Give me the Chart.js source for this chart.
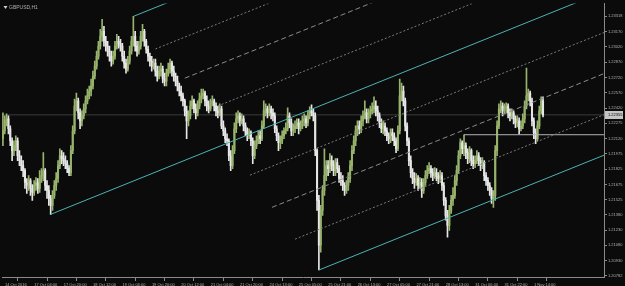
<!DOCTYPE html>
<html>
<head>
<meta charset="utf-8">
<script src="https://cdn.jsdelivr.net/npm/chart.js@4.4.0/dist/chart.umd.min.js"></script>
<style>
  html, body { margin: 0; padding: 0; background: #0b0b0b; }
  canvas { display: block; }
</style>
</head>
<body>
<canvas id="grafico" width="625" height="286"></canvas>
<script>
// GBPUSD H1 - velas, canal y niveles

const symbolTitle = 'GBPUSD,H1';

// Etiquetas del eje de tiempo (una cada 16 velas)
const xTickBars = [0, 16, 32, 48, 64, 80, 96, 112, 128, 144, 160, 176, 192, 208, 224, 240, 256, 272, 288];
const xTickLabels = ['14 Oct 2016', '17 Oct 04:00', '17 Oct 20:00', '18 Oct 12:00', '19 Oct 04:00', '19 Oct 20:00',
  '20 Oct 12:00', '21 Oct 04:00', '21 Oct 20:00', '24 Oct 13:00', '25 Oct 05:00', '25 Oct 21:00', '26 Oct 13:00',
  '27 Oct 05:00', '27 Oct 21:00', '28 Oct 13:00', '31 Oct 06:00', '31 Oct 22:00', '1 Nov 14:00'];

// Etiquetas del eje de precios
const yTickValues = [1.23318, 1.23170, 1.23020, 1.22870, 1.22720, 1.22570, 1.22420, 1.22275, 1.22120,
  1.21975, 1.21825, 1.21675, 1.21525, 1.21380, 1.21230, 1.21080, 1.20930, 1.20782];
const priceMin = 1.20771;
const priceMax = 1.23444;
const bidPrice = 1.22355;

// Velas (OHLC)
const candleOpen = [
  1.22122,1.22199,1.22297,1.22316,1.22219,1.22102,1.22005,1.22054,1.22102,1.21956,
  1.21908,1.21859,1.21811,1.21694,1.21665,1.21713,1.21636,1.21597,1.21665,1.21694,
  1.21636,1.21733,1.21762,1.21811,1.21665,1.21616,1.21538,1.21470,1.21568,1.21665,
  1.21733,1.21859,1.21956,1.21927,1.21908,1.21879,1.21830,1.21791,1.22005,1.22199,
  1.22442,1.22491,1.22374,1.22297,1.22345,1.22413,1.22491,1.22540,1.22588,1.22637,
  1.22734,1.22831,1.22928,1.23026,1.23123,1.23171,1.23074,1.23026,1.22977,1.22928,
  1.22880,1.22928,1.23026,1.23074,1.23055,1.23026,1.22928,1.22860,1.22802,1.22880,
  1.22977,1.23074,1.23123,1.23026,1.22977,1.23026,1.23123,1.23171,1.23074,1.22996,
  1.22928,1.22880,1.22831,1.22860,1.22783,1.22734,1.22783,1.22802,1.22705,1.22685,
  1.22763,1.22802,1.22860,1.22783,1.22734,1.22685,1.22637,1.22588,1.22540,1.22491,
  1.22394,1.22297,1.22345,1.22442,1.22491,1.22413,1.22374,1.22442,1.22510,1.22540,
  1.22569,1.22491,1.22442,1.22413,1.22462,1.22491,1.22442,1.22394,1.22374,1.22413,
  1.22248,1.22199,1.22122,1.22102,1.21956,1.21859,1.22005,1.22219,1.22316,1.22345,
  1.22297,1.22316,1.22248,1.22199,1.22151,1.22180,1.22102,1.21956,1.22054,1.22102,
  1.22151,1.22122,1.22248,1.22394,1.22413,1.22374,1.22413,1.22374,1.22345,1.22219,
  1.22151,1.22083,1.22102,1.22151,1.22199,1.22219,1.22345,1.22277,1.22199,1.22219,
  1.22248,1.22277,1.22219,1.22248,1.22297,1.22316,1.22277,1.22345,1.22394,1.22374,
  1.22345,1.22005,1.21519,1.21082,1.21422,1.21616,1.21762,1.21859,1.21830,1.21908,
  1.21859,1.21811,1.21888,1.21830,1.21733,1.21713,1.21665,1.21616,1.21665,1.21733,
  1.21859,1.22005,1.22102,1.22199,1.22248,1.22219,1.22297,1.22345,1.22374,1.22316,
  1.22365,1.22394,1.22413,1.22442,1.22394,1.22345,1.22277,1.22219,1.22248,1.22199,
  1.22151,1.22122,1.22180,1.22151,1.22102,1.22024,1.22199,1.22540,1.22588,1.22491,
  1.22248,1.22102,1.21908,1.21791,1.21733,1.21694,1.21733,1.21665,1.21694,1.21616,
  1.21694,1.21762,1.21811,1.21830,1.21791,1.21762,1.21791,1.21752,1.21733,1.21762,
  1.21665,1.21519,1.21373,1.21276,1.21422,1.21519,1.21568,1.21713,1.21811,1.21956,
  1.22083,1.22024,1.22054,1.21986,1.21927,1.22005,1.21908,1.21879,1.21908,1.21956,
  1.21908,1.21859,1.21888,1.21762,1.21713,1.21665,1.21616,1.21538,1.21568,1.22005,
  1.22248,1.22413,1.22442,1.22394,1.22413,1.22442,1.22374,1.22345,1.22374,1.22316,
  1.22277,1.22297,1.22219,1.22248,1.22316,1.22442,1.22540,1.22569,1.22491,1.22297,
  1.22180,1.22122,1.22248,1.22394,1.22491
];
const candleHigh = [
  1.22374,1.22345,1.22365,1.22345,1.22248,1.22131,1.22102,1.22151,1.22131,1.22005,
  1.21956,1.21908,1.21830,1.21733,1.21762,1.21733,1.21675,1.21713,1.21743,1.21733,
  1.21811,1.21830,1.21986,1.21830,1.21713,1.21665,1.21568,1.21616,1.21713,1.21791,
  1.21908,1.22024,1.22005,1.21986,1.21956,1.21908,1.21859,1.22054,1.22248,1.22510,
  1.22569,1.22520,1.22413,1.22394,1.22462,1.22540,1.22608,1.22637,1.22705,1.22783,
  1.22880,1.22977,1.23074,1.23191,1.23288,1.23220,1.23123,1.23074,1.23026,1.22977,
  1.22977,1.23074,1.23142,1.23123,1.23094,1.23055,1.22977,1.22899,1.22928,1.23026,
  1.23123,1.23317,1.23171,1.23074,1.23074,1.23171,1.23239,1.23191,1.23094,1.23026,
  1.22958,1.22928,1.22899,1.22899,1.22831,1.22831,1.22860,1.22831,1.22763,1.22802,
  1.22860,1.22899,1.22880,1.22831,1.22763,1.22734,1.22666,1.22637,1.22569,1.22510,
  1.22442,1.22394,1.22491,1.22540,1.22510,1.22462,1.22491,1.22569,1.22608,1.22608,
  1.22588,1.22540,1.22491,1.22510,1.22540,1.22510,1.22472,1.22442,1.22462,1.22442,
  1.22297,1.22229,1.22170,1.22122,1.22005,1.22054,1.22277,1.22374,1.22394,1.22374,
  1.22365,1.22345,1.22277,1.22229,1.22219,1.22199,1.22131,1.22102,1.22151,1.22199,
  1.22199,1.22297,1.22491,1.22462,1.22442,1.22462,1.22442,1.22413,1.22374,1.22248,
  1.22180,1.22151,1.22199,1.22229,1.22277,1.22423,1.22374,1.22316,1.22267,1.22297,
  1.22316,1.22316,1.22297,1.22345,1.22365,1.22345,1.22394,1.22433,1.22452,1.22413,
  1.22374,1.22024,1.21568,1.21470,1.21665,1.22024,1.21908,1.21908,1.21976,1.21956,
  1.21908,1.21927,1.21927,1.21859,1.21791,1.21762,1.21694,1.21713,1.21791,1.21908,
  1.22054,1.22151,1.22248,1.22297,1.22297,1.22345,1.22394,1.22491,1.22413,1.22413,
  1.22442,1.22472,1.22530,1.22491,1.22442,1.22374,1.22316,1.22297,1.22277,1.22229,
  1.22180,1.22219,1.22219,1.22180,1.22131,1.22248,1.22705,1.22666,1.22637,1.22520,
  1.22277,1.22131,1.21956,1.21830,1.21791,1.21781,1.21762,1.21743,1.21733,1.21733,
  1.21811,1.21859,1.21888,1.21859,1.21830,1.21840,1.21830,1.21791,1.21811,1.21791,
  1.21694,1.21548,1.21422,1.21470,1.21568,1.21645,1.21762,1.21859,1.22005,1.22122,
  1.22102,1.22161,1.22083,1.22024,1.22044,1.22024,1.21956,1.21956,1.22005,1.21986,
  1.21937,1.21937,1.21908,1.21791,1.21743,1.21694,1.21645,1.21616,1.22054,1.22297,
  1.22462,1.22491,1.22472,1.22462,1.22472,1.22462,1.22413,1.22413,1.22394,1.22345,
  1.22345,1.22326,1.22297,1.22365,1.22491,1.22812,1.22608,1.22588,1.22520,1.22326,
  1.22219,1.22297,1.22442,1.22530,1.22530
];
const candleLow = [
  1.22054,1.22170,1.22248,1.22170,1.22054,1.21908,1.21956,1.22005,1.21908,1.21859,
  1.21811,1.21752,1.21636,1.21587,1.21616,1.21568,1.21519,1.21568,1.21616,1.21587,
  1.21597,1.21694,1.21713,1.21616,1.21538,1.21470,1.21383,1.21422,1.21538,1.21616,
  1.21694,1.21830,1.21879,1.21859,1.21830,1.21791,1.21762,1.21762,1.21976,1.22170,
  1.22394,1.22316,1.22219,1.22248,1.22316,1.22374,1.22462,1.22510,1.22540,1.22608,
  1.22705,1.22802,1.22899,1.22996,1.23074,1.23026,1.22977,1.22928,1.22880,1.22831,
  1.22851,1.22899,1.22996,1.23006,1.22977,1.22880,1.22812,1.22763,1.22783,1.22851,
  1.22948,1.23026,1.22977,1.22928,1.22948,1.22996,1.23074,1.23026,1.22958,1.22880,
  1.22831,1.22783,1.22802,1.22734,1.22685,1.22705,1.22734,1.22666,1.22637,1.22637,
  1.22734,1.22763,1.22734,1.22685,1.22637,1.22588,1.22540,1.22491,1.22442,1.22345,
  1.22122,1.22248,1.22316,1.22413,1.22374,1.22316,1.22345,1.22413,1.22472,1.22510,
  1.22442,1.22394,1.22374,1.22394,1.22442,1.22394,1.22345,1.22326,1.22345,1.22219,
  1.22151,1.22083,1.22054,1.21908,1.21811,1.21830,1.21976,1.22180,1.22277,1.22248,
  1.22267,1.22199,1.22151,1.22102,1.22122,1.22054,1.21879,1.21927,1.22024,1.22073,
  1.22073,1.22102,1.22219,1.22345,1.22326,1.22345,1.22316,1.22297,1.22180,1.22102,
  1.22005,1.22024,1.22073,1.22122,1.22170,1.22199,1.22229,1.22151,1.22151,1.22180,
  1.22219,1.22170,1.22199,1.22219,1.22248,1.22229,1.22248,1.22316,1.22345,1.22297,
  1.21956,1.21422,1.20839,1.21014,1.21373,1.21568,1.21713,1.21762,1.21791,1.21811,
  1.21762,1.21762,1.21791,1.21694,1.21665,1.21616,1.21568,1.21587,1.21616,1.21694,
  1.21811,1.21976,1.22054,1.22151,1.22170,1.22180,1.22248,1.22316,1.22277,1.22277,
  1.22326,1.22365,1.22374,1.22345,1.22297,1.22229,1.22180,1.22170,1.22151,1.22102,
  1.22073,1.22083,1.22102,1.22054,1.21986,1.22005,1.22170,1.22491,1.22442,1.22199,
  1.22054,1.21859,1.21743,1.21684,1.21636,1.21665,1.21616,1.21636,1.21548,1.21587,
  1.21665,1.21733,1.21781,1.21743,1.21713,1.21733,1.21713,1.21684,1.21694,1.21616,
  1.21470,1.21325,1.21159,1.21227,1.21393,1.21470,1.21538,1.21665,1.21781,1.21927,
  1.21976,1.21956,1.21927,1.21879,1.21888,1.21859,1.21830,1.21840,1.21879,1.21859,
  1.21811,1.21830,1.21713,1.21665,1.21616,1.21568,1.21490,1.21451,1.21519,1.21956,
  1.22219,1.22374,1.22345,1.22365,1.22374,1.22326,1.22297,1.22316,1.22267,1.22229,
  1.22238,1.22170,1.22199,1.22219,1.22277,1.22413,1.22491,1.22442,1.22248,1.22122,
  1.22073,1.22102,1.22219,1.22365,1.22335
];
const candleClose = [
  1.22199,1.22297,1.22316,1.22219,1.22102,1.22005,1.22054,1.22102,1.21956,1.21908,
  1.21859,1.21811,1.21694,1.21665,1.21713,1.21636,1.21597,1.21665,1.21694,1.21636,
  1.21733,1.21762,1.21811,1.21665,1.21616,1.21538,1.21470,1.21568,1.21665,1.21733,
  1.21859,1.21956,1.21927,1.21908,1.21879,1.21830,1.21791,1.22005,1.22199,1.22442,
  1.22491,1.22374,1.22297,1.22345,1.22413,1.22491,1.22540,1.22588,1.22637,1.22734,
  1.22831,1.22928,1.23026,1.23123,1.23171,1.23074,1.23026,1.22977,1.22928,1.22880,
  1.22928,1.23026,1.23074,1.23055,1.23026,1.22928,1.22860,1.22802,1.22880,1.22977,
  1.23074,1.23123,1.23026,1.22977,1.23026,1.23123,1.23171,1.23074,1.22996,1.22928,
  1.22880,1.22831,1.22860,1.22783,1.22734,1.22783,1.22802,1.22705,1.22685,1.22763,
  1.22802,1.22860,1.22783,1.22734,1.22685,1.22637,1.22588,1.22540,1.22491,1.22394,
  1.22297,1.22345,1.22442,1.22491,1.22413,1.22374,1.22442,1.22510,1.22540,1.22569,
  1.22491,1.22442,1.22413,1.22462,1.22491,1.22442,1.22394,1.22374,1.22413,1.22248,
  1.22199,1.22122,1.22102,1.21956,1.21859,1.22005,1.22219,1.22316,1.22345,1.22297,
  1.22316,1.22248,1.22199,1.22151,1.22180,1.22102,1.21956,1.22054,1.22102,1.22151,
  1.22122,1.22248,1.22394,1.22413,1.22374,1.22413,1.22374,1.22345,1.22219,1.22151,
  1.22083,1.22102,1.22151,1.22199,1.22219,1.22345,1.22277,1.22199,1.22219,1.22248,
  1.22277,1.22219,1.22248,1.22297,1.22316,1.22277,1.22345,1.22394,1.22374,1.22345,
  1.22005,1.21519,1.21082,1.21422,1.21616,1.21762,1.21859,1.21830,1.21908,1.21859,
  1.21811,1.21888,1.21830,1.21733,1.21713,1.21665,1.21616,1.21665,1.21733,1.21859,
  1.22005,1.22102,1.22199,1.22248,1.22219,1.22297,1.22345,1.22374,1.22316,1.22365,
  1.22394,1.22413,1.22442,1.22394,1.22345,1.22277,1.22219,1.22248,1.22199,1.22151,
  1.22122,1.22180,1.22151,1.22102,1.22024,1.22199,1.22540,1.22588,1.22491,1.22248,
  1.22102,1.21908,1.21791,1.21733,1.21694,1.21733,1.21665,1.21694,1.21616,1.21694,
  1.21762,1.21811,1.21830,1.21791,1.21762,1.21791,1.21752,1.21733,1.21762,1.21665,
  1.21519,1.21373,1.21276,1.21422,1.21519,1.21568,1.21713,1.21811,1.21956,1.22083,
  1.22024,1.22054,1.21986,1.21927,1.22005,1.21908,1.21879,1.21908,1.21956,1.21908,
  1.21859,1.21888,1.21762,1.21713,1.21665,1.21616,1.21538,1.21568,1.22005,1.22248,
  1.22413,1.22442,1.22394,1.22413,1.22442,1.22374,1.22345,1.22374,1.22316,1.22277,
  1.22297,1.22219,1.22248,1.22316,1.22442,1.22540,1.22569,1.22491,1.22297,1.22180,
  1.22122,1.22248,1.22394,1.22491,1.22355
];

// Canal: líneas sólidas (superior, media, inferior) ancladas en máximos/mínimos
const channelAnchorBar = [71, 26, 172];
const channelAnchorPrice = [1.23317, 1.21383, 1.20839];
const channelSlope = 0.0000723;   // precio por vela
const channelWidth = 0.01605;
// Líneas intermedias (fracción del canal respecto a la línea media) y vela donde empiezan
const quarterLevels = [0.75, 0.5, 0.25, -0.25, -0.5, -0.75];
const quarterStartBar = [83, 99, 117, 134.5, 146.5, 159];

// Resistencia horizontal
const resistanceBar = 251;
const resistancePrice = 1.22161;

const lastSlot = 327.2;

// Colores
const colorUp = '#98b46c';
const colorDown = '#e6e6e6';
const colorChannel = '#4db3b3';
const colorAxis = '#8a8a8a';
const colorText = '#b0b0b0';
const axisFont = { size: 4, family: 'Liberation Sans' };

function rayTo(startBar, startPrice) {
    return [
        { x: startBar, y: startPrice },
        { x: lastSlot, y: startPrice + (lastSlot - startBar) * channelSlope }
    ];
}

const barIdx = candleClose.map((c, i) => i);
const candleColors = barIdx.map(i => candleClose[i] >= candleOpen[i] ? colorUp : colorDown);

const datasets = [];

// Líneas del canal
channelAnchorBar.forEach((b, k) => {
    datasets.push({
        type: 'line', data: rayTo(b, channelAnchorPrice[k]),
        borderColor: colorChannel, borderWidth: 1, pointRadius: 0, order: 0
    });
});
quarterLevels.forEach((lvl, k) => {
    const b = quarterStartBar[k];
    const p = channelAnchorPrice[1] + (b - channelAnchorBar[1]) * channelSlope + lvl * channelWidth;
    datasets.push({
        type: 'line', data: rayTo(b, p),
        borderColor: Math.abs(lvl) === 0.5 ? '#8c8c8c' : '#7a7a7a',
        borderDash: Math.abs(lvl) === 0.5 ? [5, 3] : [2, 2],
        borderWidth: 1, pointRadius: 0, order: 0
    });
});

// Resistencia y línea Bid
datasets.push({
    type: 'line', data: [{ x: resistanceBar, y: resistancePrice }, { x: lastSlot, y: resistancePrice }],
    borderColor: '#b4b4b4', borderWidth: 1, pointRadius: 0, order: 0
});
datasets.push({
    type: 'line', data: [{ x: -0.5, y: bidPrice }, { x: lastSlot, y: bidPrice }],
    borderColor: 'rgba(120,120,120,0.45)', borderWidth: 1, pointRadius: 0, order: 3
});

// Mechas y cuerpos
datasets.push({
    type: 'bar', data: barIdx.map(i => ({ x: i, y: [candleLow[i], candleHigh[i]] })),
    backgroundColor: candleColors, barThickness: 1, grouped: false, order: 2
});
datasets.push({
    type: 'bar', data: barIdx.map(i => ({ x: i, y: [candleOpen[i], candleClose[i]] })),
    backgroundColor: candleColors, barThickness: 1.4, minBarLength: 1, grouped: false, order: 1
});

const overlay = {
    id: 'overlay',
    afterDraw(chart) {
        const ctx = chart.ctx;
        const yBid = chart.scales.y.getPixelForValue(bidPrice);
        ctx.save();
        // Precio actual en el eje
        ctx.fillStyle = '#c4c4c4';
        ctx.fillRect(605, Math.round(yBid) - 4, 18, 8);
        ctx.fillStyle = '#000';
        ctx.font = '4px "Liberation Sans"';
        ctx.textBaseline = 'middle';
        ctx.fillText(bidPrice.toFixed(5), 608, yBid);
        // Título
        ctx.fillStyle = '#d0d0d0';
        ctx.beginPath();
        ctx.moveTo(3.5, 6); ctx.lineTo(7.5, 6); ctx.lineTo(5.5, 9);
        ctx.closePath(); ctx.fill();
        ctx.fillStyle = colorText;
        ctx.font = '5px "Liberation Sans"';
        ctx.fillText(symbolTitle, 9, 8);
        ctx.restore();
    }
};

new Chart(document.getElementById('grafico'), {
    type: 'bar',
    data: { datasets: datasets },
    plugins: [overlay],
    options: {
        responsive: false,
        animation: false,
        devicePixelRatio: 1,
        layout: { padding: { left: 2, top: 2, right: 0, bottom: 0 } },
        plugins: { legend: { display: false }, tooltip: { enabled: false } },
        scales: {
            x: {
                type: 'linear', min: -0.5, max: lastSlot, offset: false,
                afterBuildTicks: s => { s.ticks = xTickBars.map(v => ({ value: v })); },
                afterFit: s => { s.height = 9; },
                ticks: {
                    autoSkip: false, maxRotation: 0, align: 'start', padding: 1, labelOffset: 2,
                    color: colorText, font: axisFont,
                    callback: (v, i) => xTickLabels[i]
                },
                grid: { drawOnChartArea: false, tickLength: 4, color: colorAxis },
                border: { display: true, color: colorAxis }
            },
            y: {
                type: 'linear', position: 'right', min: priceMin, max: priceMax,
                afterBuildTicks: s => { s.ticks = yTickValues.map(v => ({ value: v })); },
                afterFit: s => { s.width = 21; },
                ticks: {
                    autoSkip: false, padding: 1,
                    color: colorText, font: axisFont,
                    callback: v => v.toFixed(5)
                },
                grid: { drawOnChartArea: false, tickLength: 3, color: colorAxis },
                border: { display: true, color: colorAxis }
            }
        }
    }
});
</script>
</body>
</html>
